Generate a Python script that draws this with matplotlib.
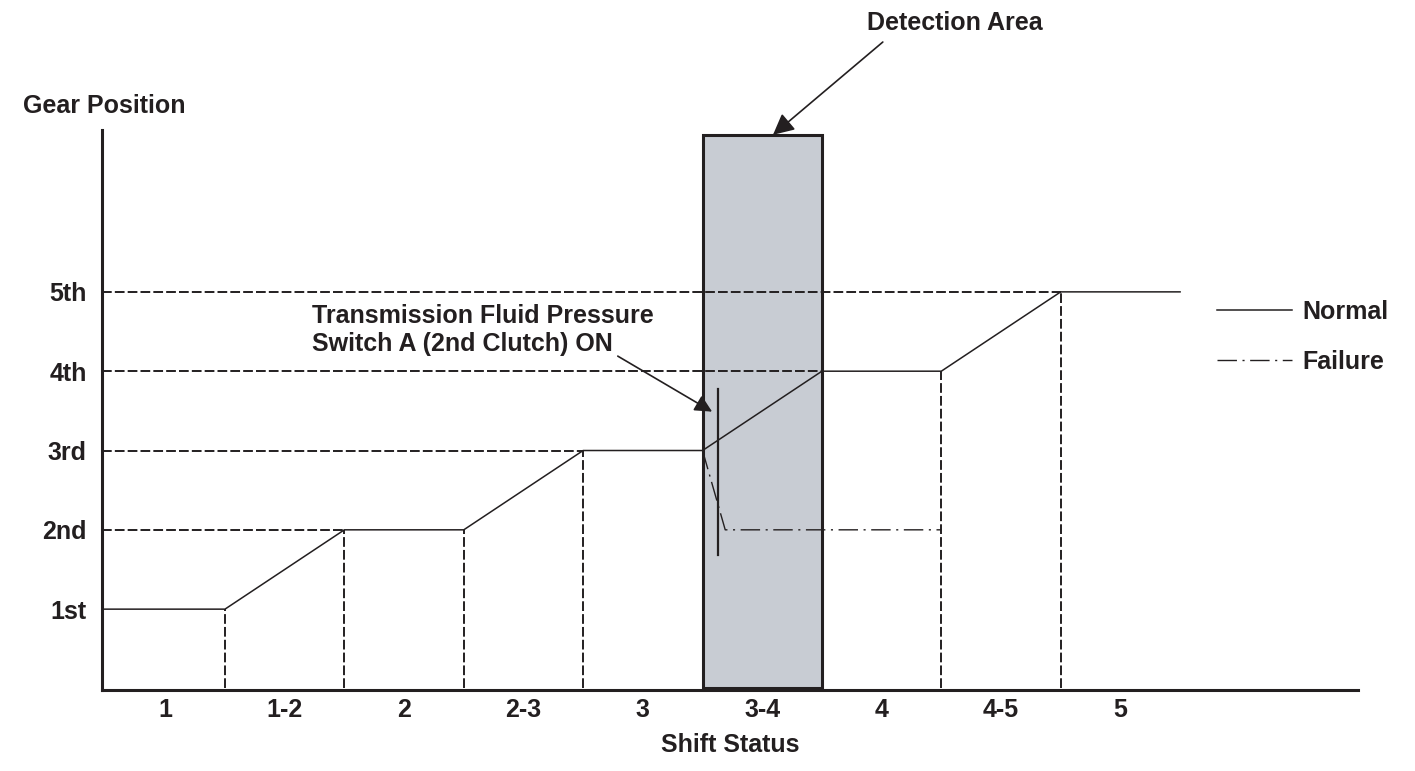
import numpy as np
import matplotlib
matplotlib.use("Agg")
import matplotlib.pyplot as plt
from matplotlib.patches import Rectangle

plt.rcParams['font.family'] = ['Liberation Sans', 'DejaVu Sans']
plt.rcParams['font.weight'] = 'bold'

INK = '#231f20'
BOX_GRAY = '#c8ccd3'
FS = 18

# chart data
shift_labels = ['1', '1-2', '2', '2-3', '3', '3-4', '4', '4-5', '5']
gear_labels = ['1st', '2nd', '3rd', '4th', '5th']
gear_levels = [1, 2, 3, 4, 5]

normal_x = [-0.03, 1, 2, 3, 4, 5, 6, 7, 8, 9]
normal_y = [1, 1, 2, 2, 3, 3, 4, 4, 5, 5]

failure_x = [5, 5.19, 7]
failure_y = [3, 2, 2]

guide_x = [1, 2, 3, 4, 7, 8]          # vertical dashed guides
detect_x = (5, 6)
detect_top = 6.98
switch_x = 5.13
switch_y = (1.68, 3.78)

fig = plt.figure(figsize=(14.15, 7.71), dpi=100)
ax = fig.add_axes([0.0721, 0.105, 0.8876, 0.7263])
ax.set_xlim(-0.03, 10.49)
ax.set_ylim(-0.02, 7.04)

# detection area box
ax.add_patch(Rectangle((detect_x[0], 0), detect_x[1] - detect_x[0], detect_top,
                       facecolor=BOX_GRAY, edgecolor=INK, lw=2.2, zorder=1))

dash = dict(color=INK, lw=1.4, linestyle=(0, (5, 1.6)), zorder=2)

# horizontal guides to where the normal line reaches each gear
for g in gear_levels[1:]:
    end = normal_x[normal_y.index(g)]
    ax.plot([normal_x[0], end], [g, g], **dash)

# vertical guides down from the normal line
for b in guide_x:
    ax.plot([b, b], [0, np.interp(b, normal_x, normal_y)], **dash)

ax.plot(normal_x, normal_y, color=INK, lw=1.1, zorder=3, label='Normal')
ax.plot(failure_x, failure_y, color=INK, lw=1.0,
        linestyle=(0, (14, 4, 1.5, 4)), zorder=3, label='Failure')
ax.plot([switch_x, switch_x], switch_y, color=INK, lw=1.6, zorder=3)

# axes styling
for s in ['top', 'right']:
    ax.spines[s].set_visible(False)
for s in ['left', 'bottom']:
    ax.spines[s].set_linewidth(2.2)
    ax.spines[s].set_color(INK)
ax.set_yticks(gear_levels, gear_labels)
ax.set_xticks(np.arange(len(shift_labels)) + 0.5, shift_labels)
ax.tick_params(axis='y', length=0, pad=11, labelsize=FS, labelcolor=INK)
ax.tick_params(axis='x', length=0, pad=6, labelsize=FS, labelcolor=INK)
ax.set_xlabel('Shift Status', fontsize=FS, color=INK, labelpad=8,
              fontweight='bold')

fig.text(23 / 1415, 1 - 106 / 771, 'Gear Position', fontsize=FS, color=INK,
         fontweight='bold', ha='left', va='center')

# annotations
ax.text(7.11, 8.39, 'Detection Area', fontsize=FS, color=INK,
        fontweight='bold', ha='center', va='center', clip_on=False)
ax.annotate('', xy=(5.59, detect_top), xytext=(6.51, 8.15),
            arrowprops=dict(arrowstyle='-|>', color=INK, lw=1.2,
                            mutation_scale=32, shrinkA=0, shrinkB=0),
            annotation_clip=False)

ax.text(1.73, 4.52, 'Transmission Fluid Pressure\nSwitch A (2nd Clutch) ON',
        fontsize=FS, color=INK, fontweight='bold', ha='left', va='center',
        linespacing=1.25)
ax.annotate('', xy=(5.08, 3.49), xytext=(4.29, 4.19),
            arrowprops=dict(arrowstyle='-|>', color=INK, lw=1.2,
                            mutation_scale=26, shrinkA=0, shrinkB=0),
            zorder=4)

leg = ax.legend(loc='upper left', bbox_to_anchor=(0.8877, 0.697),
                frameon=False, fontsize=FS, handlelength=3.0,
                handletextpad=0.4, labelspacing=1.05, borderpad=0,
                borderaxespad=0)
for t in leg.get_texts():
    t.set_color(INK)

fig.savefig('out.png', dpi=100, facecolor='white')
